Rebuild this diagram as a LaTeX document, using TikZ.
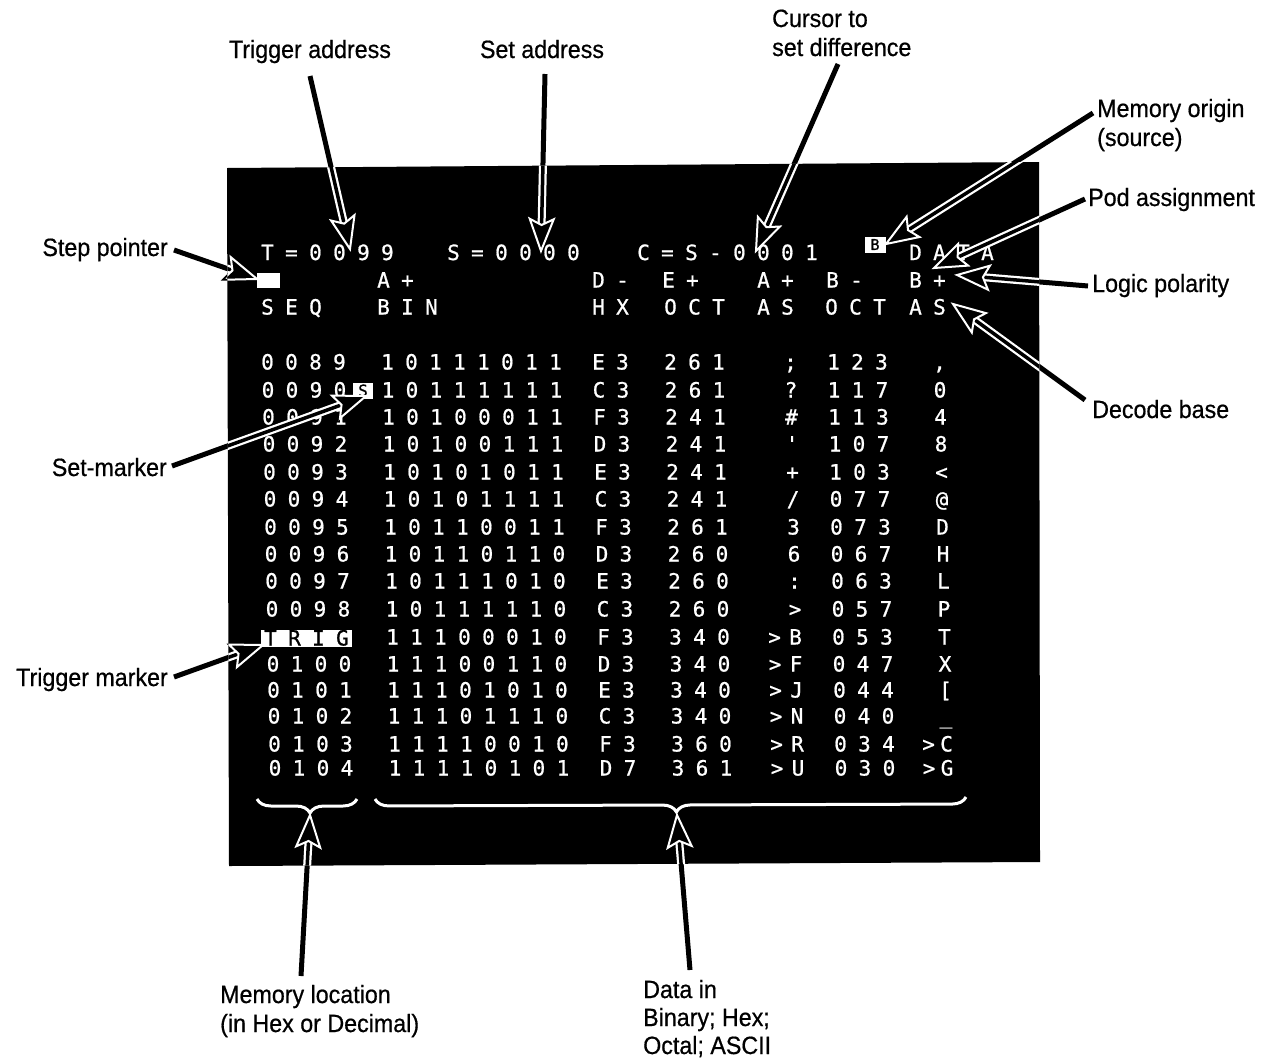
\documentclass[tikz,border=0pt]{standalone}
\usepackage{fontspec}
\setmainfont[FakeStretch=0.93,FakeBold=0.6]{Liberation Sans}
\newfontfamily\scrfont[LetterSpace=54,FakeBold=0.8]{DejaVu Sans Mono}
\usetikzlibrary{calc,decorations.pathreplacing}
\tikzset{
  lbl/.style={font=\fontsize{25}{29}\selectfont, inner sep=0pt, text=black},
  scr/.style={font=\scrfont\fontsize{21}{24}\selectfont, inner sep=0pt, text=white, anchor=base west},
  scrinv/.style={font=\scrfont\fontsize{21}{24}\selectfont, inner sep=0pt, text=black, anchor=base west},
  invbox/.style={fill=white, draw=none, inner sep=0pt},
  brc/.style={draw=white, line width=3pt, decorate},
  shaftA/.style={line width=5pt, draw=black},
  shaftB/.style={draw=none},
  headst/.style={fill=white, draw=black, line width=1.8pt, line join=miter},
}
\newcommand\callout[2]{%
  \coordinate (cN) at ($(#2)!22pt!(#1)$);
  \coordinate (cB) at ($(#2)!32pt!(#1)$);
  \coordinate (cK) at ($(#2)!26pt!(#1)$);
  \coordinate (cL) at ($(cB)!12pt!90:(#2)$);
  \coordinate (cR) at ($(cB)!12pt!-90:(#2)$);
  \draw[shaftA] (#1) -- (cN);
  \draw[shaftB] (#1) -- (cN);
  \draw[headst] (#2) -- (cL) -- (cK) -- (cR) -- cycle;
}
\newcommand\allcallouts{%
  \callout{sTA}{tTA}\callout{sSA}{tSA}\callout{sCD}{tCD}\callout{sMO}{tMO}%
  \callout{sPA}{tPA}\callout{sLP}{tLP}\callout{sDB}{tDB}\callout{sSP}{tSP}%
  \callout{sSM}{tSM}\callout{sTM}{tTM}\callout{sML}{tML}\callout{sDI}{tDI}%
}
\begin{document}
\begin{tikzpicture}[x=1pt,y=-1pt]
\useasboundingbox (0,0) rectangle (1273,1063);
\fill[white] (0,0) rectangle (1273,1063);

% labels
\node[lbl, anchor=base] (lTA) at (310,58) {Trigger address};
\node[lbl, anchor=base] (lSA) at (542,58) {Set address};
\node[lbl, anchor=base west] (lCD1) at (772,27) {Cursor to};
\node[lbl, anchor=base west] (lCD2) at (772,56) {set difference};
\node[lbl, anchor=base west] (lMO1) at (1097,117) {Memory origin};
\node[lbl, anchor=base west] (lMO2) at (1097,146) {(source)};
\node[lbl, anchor=base west] (lPA) at (1088,206) {Pod assignment};
\node[lbl, anchor=base west] (lLP) at (1092,292) {Logic polarity};
\node[lbl, anchor=base west] (lDB) at (1092,418) {Decode base};
\node[lbl, anchor=base east] (lSP) at (168,256) {Step pointer};
\node[lbl, anchor=base east] (lSM) at (167,476) {Set-marker};
\node[lbl, anchor=base east] (lTM) at (168,686) {Trigger marker};
\node[lbl, anchor=base west] (lML1) at (220,1003) {Memory location};
\node[lbl, anchor=base west] (lML2) at (220,1032) {(in Hex or Decimal)};
\node[lbl, anchor=base west] (lDI1) at (643,998) {Data in};
\node[lbl, anchor=base west] (lDI2) at (643,1026) {Binary; Hex;};
\node[lbl, anchor=base west] (lDI3) at (643,1054) {Octal; ASCII};

% arrow ends
\coordinate (sTA) at (310,76);   \coordinate (tTA) at (350,249);
\coordinate (sSA) at (545,74);   \coordinate (tSA) at (541,251);
\coordinate (sCD) at (838,64);   \coordinate (tCD) at (756,251);
\coordinate (sMO) at (1093,113); \coordinate (tMO) at (886,244);
\coordinate (sPA) at (1085,199); \coordinate (tPA) at (934,268);
\coordinate (sLP) at (1088,286); \coordinate (tLP) at (957,275);
\coordinate (sDB) at (1085,400); \coordinate (tDB) at (953,304);
\coordinate (sSP) at (174,250);  \coordinate (tSP) at (257,279);
\coordinate (sSM) at (172,466);  \coordinate (tSM) at (366,396);
\coordinate (sTM) at (174,677);  \coordinate (tTM) at (263,645);
\coordinate (sML) at (301,976);  \coordinate (tML) at (310,815);
\coordinate (sDI) at (690,970);  \coordinate (tDI) at (677,815);

% pass 1: arrows on white
\allcallouts

% screen
\fill[black] (227,168) -- (1039,162) -- (1040,862) -- (229,866) -- cycle;

% header
\node[scr] (hT) at (261,260) {T=0099};
\node[scr] (hS) at (447,260) {S=0000};
\node[scr] (hC) at (637,260) {C=S-0001};
\node[invbox, minimum width=21pt, minimum height=16pt, font=\scrfont\fontsize{15}{16}\selectfont, text=black] (hB) at (875,244.5) {B};
\node[scr] (hD) at (909,260) {DATA};

\node[invbox, minimum width=23pt, minimum height=15pt] (stepblk) at (268.5,280.5) {};
\node[scr] (r2a) at (377,287.5) {A+};
\node[scr] (r2b) at (592,287.5) {D-};
\node[scr] (r2c) at (662,287.5) {E+};
\node[scr] (r2d) at (757,287.5) {A+};
\node[scr] (r2e) at (826,287.5) {B-};
\node[scr] (r2f) at (909,287.5) {B+};

\node[scr] (r3a) at (261,314.5) {SEQ};
\node[scr] (r3b) at (377,314.5) {BIN};
\node[scr] (r3c) at (592,314.5) {HX};
\node[scr] (r3d) at (664,314.5) {OCT};
\node[scr] (r3e) at (757,314.5) {AS};
\node[scr] (r3f) at (825,314.5) {OCT};
\node[scr] (r3g) at (909,314.5) {AS};

% data rows
\foreach \yc/\sq/\bn/\hx/\oa/\pa/\ca/\ob/\pb/\cb [count=\i from 0] in {
 362/0089/10111011/E3/261/{}/{;}/123/{}/{,},
 390/0090/10111111/C3/261/{}/{?}/117/{}/{0},
 417/0091/10100011/F3/241/{}/{\#}/113/{}/{4},
 444/0092/10100111/D3/241/{}/{'}/107/{}/{8},
 472/0093/10101011/E3/241/{}/{+}/103/{}/{<},
 499/0094/10101111/C3/241/{}/{/}/077/{}/{@},
 527/0095/10110011/F3/261/{}/{3}/073/{}/{D},
 554/0096/10110110/D3/260/{}/{6}/067/{}/{H},
 581/0097/10111010/E3/260/{}/{:}/063/{}/{L},
 609/0098/10111110/C3/260/{}/{>}/057/{}/{P},
 637/{}/11100010/F3/340/{>}/{B}/053/{}/{T},
 664/0100/11100110/D3/340/{>}/{F}/047/{}/{X},
 690/0101/11101010/E3/340/{>}/{J}/044/{}/{[},
 716/0102/11101110/C3/340/{>}/{N}/040/{}/{\_},
 744/0103/11110010/F3/360/{>}/{R}/034/{>}/{C},
 768/0104/11110101/D7/361/{>}/{U}/030/{>}/{G}} {
  \pgfmathsetmacro\yb{\yc+7.5}
  \pgfmathsetmacro\xo{\i*0.5}
  \node[scr] (sq\i) at (261+\xo,\yb) {\sq};
  \node[scr] (bn\i) at (381+\xo,\yb) {\bn};
  \node[scr] (hx\i) at (592+\xo,\yb) {\hx};
  \node[scr] (oa\i) at (664+\xo,\yb) {\oa};
  \node[scr] (pa\i) at (763+\xo,\yb) {\pa};
  \node[scr] (ca\i) at (784+\xo,\yb) {\ca};
  \node[scr] (ob\i) at (827+\xo,\yb) {\ob};
  \node[scr] (pb\i) at (915+\xo,\yb) {\pb};
  \node[scr] (cb\i) at (933+\xo,\yb) {\cb};
}

% set marker and trigger marker
\node[invbox, minimum width=20pt, minimum height=16pt, font=\scrfont\fontsize{16}{18}\selectfont, text=black] (smark) at (363,390.5) {S};
\node[invbox, minimum width=91pt, minimum height=17pt] (trigbox) at (306.5,638) {};
\node[scrinv] (trig) at (264,645.5) {TRIG};

% braces
\draw[brc, decoration={brace, mirror, amplitude=14pt, aspect=0.53}] (257,799) -- (357,799);
\draw[brc, decoration={brace, mirror, amplitude=14pt, aspect=0.51}] (375,799) -- (966,797);

% pass 2: arrows inside the screen
\begin{scope}
  \clip (227,168) -- (1039,162) -- (1040,862) -- (229,866) -- cycle;
  \tikzset{
    shaftA/.style={line width=8pt, draw=white},
    shaftB/.style={line width=3.5pt, draw=black},
    headst/.style={fill=black, draw=white, line width=2pt, line join=miter},
  }
  \allcallouts
\end{scope}
\end{tikzpicture}
\end{document}
